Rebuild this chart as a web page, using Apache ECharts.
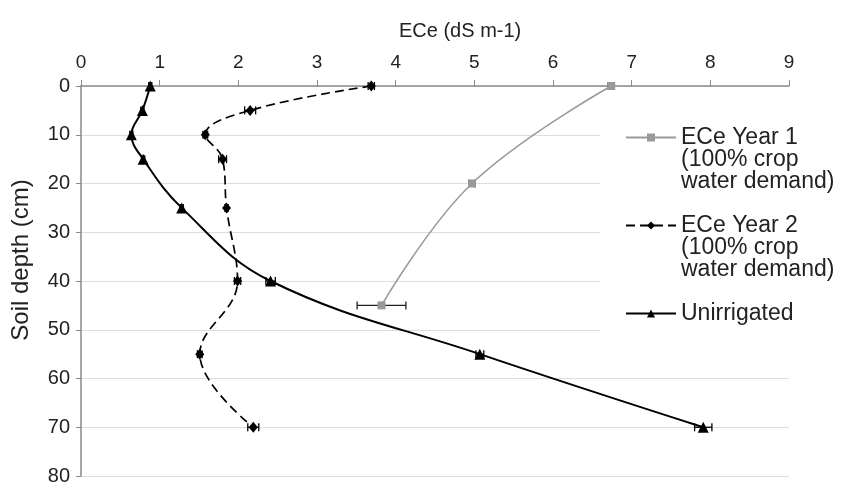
<!DOCTYPE html>
<html>
<head>
<meta charset="utf-8">
<script src="https://cdn.jsdelivr.net/npm/echarts@6/dist/echarts.min.js"></script>
<style>
  html, body { margin: 0; padding: 0; background: #fff; }
  #chart { width: 845px; height: 487px; }
</style>
</head>
<body>
<div id="chart"></div>
<script>
  // depth (cm) for each sample, ECe (dS m-1)
  const year1Depth = [0, 20, 45]
  const year1Ece = [6.74, 4.97, 3.82]
  const year1Err = [0.04, 0.04, 0.31]

  const year2Depth = [0, 5, 10, 15, 25, 40, 55, 70]
  const year2Ece = [3.69, 2.15, 1.58, 1.80, 1.85, 1.99, 1.51, 2.19]
  const year2Err = [0.04, 0.07, 0.03, 0.05, 0.02, 0.04, 0.03, 0.07]

  const unirrDepth = [0, 5, 10, 15, 25, 40, 55, 70]
  const unirrEce = [0.88, 0.78, 0.64, 0.79, 1.28, 2.41, 5.07, 7.91]
  const unirrErr = [0.02, 0.02, 0.02, 0.02, 0.02, 0.06, 0.05, 0.11]

  const NAMES = [
    'ECe Year 1\n(100% crop\nwater demand)',
    'ECe Year 2\n(100% crop\nwater demand)',
    'Unirrigated'
  ]

  const FONT = "'Liberation Sans', Arial, Helvetica, sans-serif"

  function points (xs, ys) {
    return ys.map((d, i) => [xs[i], d])
  }

  function withErr (xs, ys, errs) {
    return ys.map((d, i) => [xs[i], d, errs[i]])
  }

  function errorBars (data, color) {
    return {
      type: 'custom',
      z: 3,
      silent: true,
      data,
      renderItem (params, api) {
        const x = api.value(0)
        const y = api.value(1)
        const e = api.value(2)
        const a = api.coord([x - e, y])
        const b = api.coord([x + e, y])
        const style = { stroke: color, lineWidth: 1.3 }
        return {
          type: 'group',
          children: [
            { type: 'line', shape: { x1: a[0], y1: a[1], x2: b[0], y2: b[1] }, style },
            { type: 'line', shape: { x1: a[0], y1: a[1] - 4, x2: a[0], y2: a[1] + 4 }, style },
            { type: 'line', shape: { x1: b[0], y1: b[1] - 4, x2: b[0], y2: b[1] + 4 }, style }
          ]
        }
      }
    }
  }

  const chart = echarts.init(document.getElementById('chart'))

  chart.setOption({
    animation: false,
    backgroundColor: '#fff',
    textStyle: { fontFamily: FONT },
    title: {
      text: 'ECe (dS m-1)',
      left: 394,
      top: 16,
      textStyle: { fontFamily: FONT, fontSize: 20, fontWeight: 'normal', color: '#222' }
    },
    grid: { left: 81, right: 56, top: 86, bottom: 11 },
    graphic: [{
      type: 'rect',
      z: 1,
      silent: true,
      shape: { x: 600, y: 104, width: 245, height: 240 },
      style: { fill: '#fff' }
    }],
    legend: {
      orient: 'vertical',
      left: 620,
      top: 77,
      padding: 5,
      itemGap: -23,
      itemWidth: 50,
      itemHeight: 10,
      data: NAMES,
      // legend text is centred on its icon; empty lines put the icon on the first line
      formatter: name => {
        const lines = name.split('\n').length
        if (lines === 1) return '\n\n' + name + '\n\n'
        return '\n\n' + name
      },
      textStyle: {
        fontFamily: FONT,
        fontSize: 23,
        lineHeight: 22,
        color: '#222'
      }
    },
    xAxis: {
      type: 'value',
      position: 'top',
      min: 0,
      max: 9,
      interval: 1,
      axisLine: { lineStyle: { color: '#8a8a8a', width: 1.5 } },
      axisTick: { show: true, length: 6, lineStyle: { color: '#8a8a8a' } },
      axisLabel: { fontSize: 19, color: '#222', margin: 14 },
      splitLine: { show: false }
    },
    yAxis: {
      type: 'value',
      inverse: true,
      min: 0,
      max: 80,
      interval: 10,
      name: 'Soil depth (cm)',
      nameLocation: 'middle',
      nameRotate: 90,
      nameGap: 48,
      nameTextStyle: { fontSize: 24, color: '#222', padding: [0, 0, 0, 42] },
      axisLine: { show: true, lineStyle: { color: '#8a8a8a', width: 1.5 } },
      axisTick: { show: true, length: 5, lineStyle: { color: '#8a8a8a' } },
      axisLabel: { fontSize: 20, color: '#222', margin: 11 },
      splitLine: {
        show: true,
        lineStyle: {
          color: ['#ddd', '#ddd', '#f0d6d6', '#ddd', '#ddd', '#ddd', '#ddd', '#f0d6d6', '#ddd'],
          width: 1.2
        }
      }
    },
    series: [
      {
        name: NAMES[0],
        type: 'line',
        z: 4,
        data: points(year1Ece, year1Depth),
        smooth: 0.4,
        symbol: 'rect',
        symbolSize: 8,
        color: '#999',
        lineStyle: { color: '#999', width: 1.5 },
        itemStyle: { color: '#999' }
      },
      {
        name: NAMES[1],
        type: 'line',
        z: 4,
        data: points(year2Ece, year2Depth),
        smooth: 0.4,
        symbol: 'diamond',
        symbolSize: [9, 11],
        color: '#000',
        lineStyle: { color: '#000', width: 1.7, type: [9, 5] },
        itemStyle: { color: '#000' }
      },
      {
        name: NAMES[2],
        type: 'line',
        z: 4,
        data: points(unirrEce, unirrDepth),
        smooth: 0.4,
        symbol: 'triangle',
        symbolSize: 11,
        color: '#000',
        lineStyle: { color: '#000', width: 2 },
        itemStyle: { color: '#000' }
      },
      errorBars(withErr(year1Ece, year1Depth, year1Err), '#222'),
      errorBars(withErr(year2Ece, year2Depth, year2Err), '#000'),
      errorBars(withErr(unirrEce, unirrDepth, unirrErr), '#000')
    ]
  })
</script>
</body>
</html>
